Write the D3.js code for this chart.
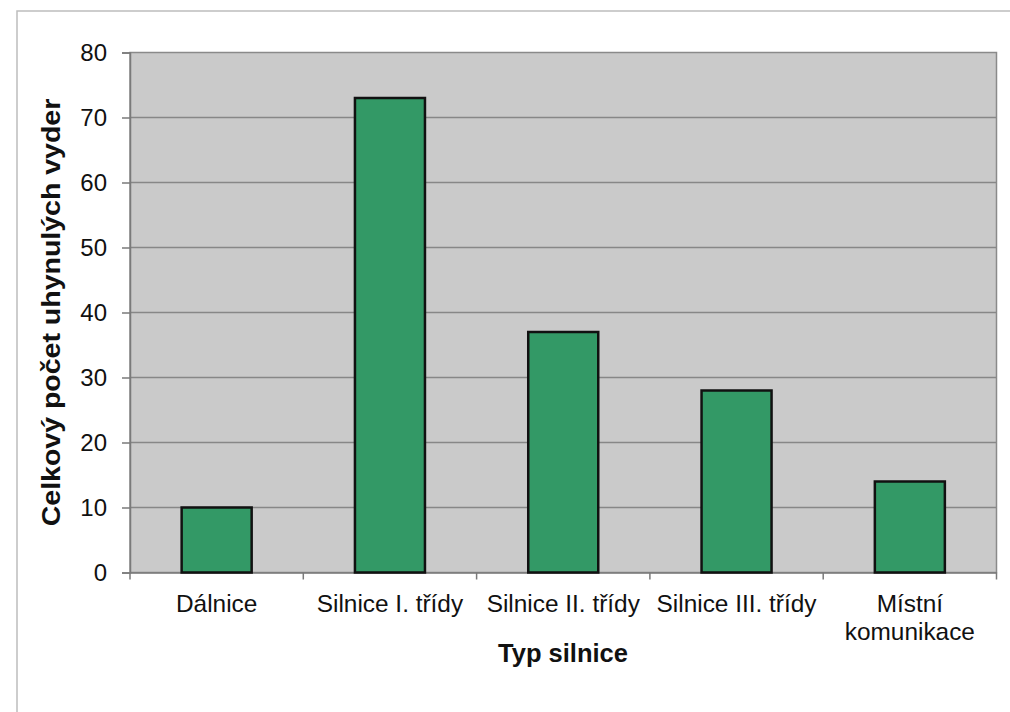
<!DOCTYPE html>
<html><head><meta charset="utf-8">
<script src="https://cdn.jsdelivr.net/npm/d3@7"></script>
<style>
html,body{margin:0;padding:0;background:#fff;}
svg{display:block;font-family:"Liberation Sans",Arial,sans-serif;}
</style></head>
<body>
<svg id="c" width="1010" height="712"></svg>
<script>
const categories = ["Dálnice", "Silnice I. třídy", "Silnice II. třídy", "Silnice III. třídy", "Místní\nkomunikace"];
const values = [10, 73, 37, 28, 14];
const yTicks = [0, 10, 20, 30, 40, 50, 60, 70, 80];
const yTitle = "Celkový počet uhynulých vyder";
const xTitle = "Typ silnice";

const svg = d3.select("#c");
// outer frame
svg.append("rect").attr("x",17).attr("y",11).attr("width",1010).attr("height",720)
  .attr("fill","#fff").attr("stroke","#bdbdbd").attr("stroke-width",1.5);

const m = {l:130, r:996.5, t:52.5, b:572.5};
const x = d3.scaleBand().domain(categories).range([m.l, m.r]).padding(0);
const y = d3.scaleLinear().domain([0,80]).range([m.b, m.t]);

svg.append("rect").attr("x",m.l).attr("y",m.t).attr("width",m.r-m.l).attr("height",m.b-m.t)
  .attr("fill","#cacaca").attr("stroke","#8a8a8a").attr("stroke-width",1.5);

// gridlines
svg.append("g").selectAll("line").data(yTicks.filter(d=>d>0 && d<80)).join("line")
  .attr("x1",m.l).attr("x2",m.r).attr("y1",d=>y(d)).attr("y2",d=>y(d))
  .attr("stroke","#878787").attr("stroke-width",1.5);

// y axis
const ya = svg.append("g").attr("transform",`translate(${m.l},0)`)
  .call(d3.axisLeft(y).tickValues(yTicks).tickSize(8).tickPadding(15));
ya.select(".domain").attr("stroke","#7a7a7a").attr("stroke-width",1.5);
ya.selectAll(".tick line").attr("stroke","#7a7a7a").attr("stroke-width",1.5);
ya.selectAll("text").attr("font-size",24).attr("fill","#111").attr("font-family","Liberation Sans, Arial, sans-serif");

// x axis
const xa = svg.append("g").attr("transform",`translate(0,${m.b})`)
  .call(d3.axisBottom(x).tickSize(0).tickFormat(""));
xa.select(".domain").attr("stroke","#7a7a7a").attr("stroke-width",1.5);
// category separator ticks
const seps = categories.map(c=>x(c)).concat([m.r]);
svg.append("g").selectAll("line").data(seps).join("line")
  .attr("x1",d=>d).attr("x2",d=>d).attr("y1",m.b).attr("y2",m.b+7)
  .attr("stroke","#7a7a7a").attr("stroke-width",1.5);

// labels
const lab = svg.append("g").selectAll("text").data(categories).join("text")
  .attr("x",d=>x(d)+x.bandwidth()/2).attr("y",611.5)
  .attr("text-anchor","middle").attr("font-size",24.4).attr("fill","#111");
lab.each(function(d){
  const t = d3.select(this);
  d.split("\n").forEach((s,i)=>{
    t.append("tspan").attr("x",x(d)+x.bandwidth()/2).attr("dy",i?28:0).text(s);
  });
});

// bars
const bw = x.bandwidth()*0.404;
svg.append("g").selectAll("rect").data(values).join("rect")
  .attr("x",(d,i)=>x(categories[i])+x.bandwidth()/2-bw/2)
  .attr("y",d=>y(d)).attr("width",bw).attr("height",d=>y(0)-y(d))
  .attr("fill","#339966").attr("stroke","#111").attr("stroke-width",2.5);

// titles
svg.append("text").attr("transform",`translate(60,${(m.t+m.b)/2}) rotate(-90) scale(1.14,1)`)
  .attr("text-anchor","middle").attr("font-size",25).attr("font-weight","bold").attr("fill","#111").text(yTitle);
svg.append("text").attr("x",563).attr("y",662).attr("text-anchor","middle")
  .attr("font-size",25.5).attr("font-weight","bold").attr("fill","#111").text(xTitle);
</script>
</body></html>
